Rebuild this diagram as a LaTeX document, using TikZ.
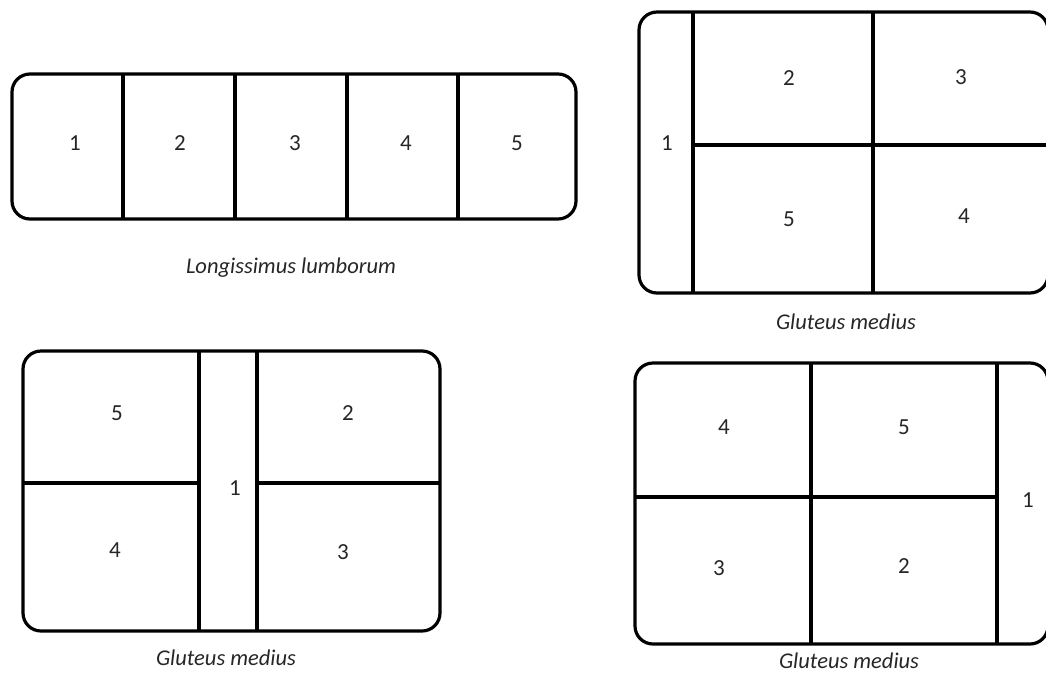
\documentclass[tikz,border=0pt]{standalone}
\usepackage{fontspec}
\setmainfont{Carlito}
\begin{document}
\begin{tikzpicture}[x=1pt,y=-1pt,
  outline/.style={line width=3.2pt, rounded corners=18pt},
  divider/.style={line width=3.2pt},
  num/.style={font=\fontsize{23}{27}\selectfont, text=black!85},
  caption/.style={font=\fontsize{22.5}{26}\selectfont\itshape, text=black!85}]
\useasboundingbox (0,0) rectangle (1046,675);

% --- Longissimus lumborum: five slices in a row ---
\draw[outline] (12,74) rectangle (576,219);
\foreach \x in {123,235,347,458} \draw[divider] (\x,74) -- (\x,219);
\node[num] (l1) at (75,143) {1};
\node[num] (l2) at (180,143) {2};
\node[num] (l3) at (295,143) {3};
\node[num] (l4) at (406,143) {4};
\node[num] (l5) at (517,143) {5};
\node[caption] (lcap) at (291,268) {Longissimus lumborum};

% --- Gluteus medius, top right ---
\draw[outline] (639,12) rectangle (1048,293);
\draw[divider] (693,12) -- (693,293);
\draw[divider] (873,12) -- (873,293);
\draw[divider] (693,145) -- (1048,145);
\node[num] (a1) at (667,143) {1};
\node[num] (a2) at (789,78) {2};
\node[num] (a3) at (961,77) {3};
\node[num] (a5) at (789,219) {5};
\node[num] (a4) at (964,216) {4};
\node[caption] (acap) at (846,322) {Gluteus medius};

% --- Gluteus medius, bottom left ---
\draw[outline] (23,351) rectangle (440,631);
\draw[divider] (199,351) -- (199,631);
\draw[divider] (257,351) -- (257,631);
\draw[divider] (23,483) -- (199,483);
\draw[divider] (257,483) -- (440,483);
\node[num] (b5) at (117,413) {5};
\node[num] (b4) at (115,550) {4};
\node[num] (b1) at (235,488) {1};
\node[num] (b2) at (348,413) {2};
\node[num] (b3) at (343,552) {3};
\node[caption] (bcap) at (226,658) {Gluteus medius};

% --- Gluteus medius, bottom right ---
\draw[outline] (635,363) rectangle (1048,644);
\draw[divider] (811,363) -- (811,644);
\draw[divider] (997,363) -- (997,644);
\draw[divider] (635,497) -- (997,497);
\node[num] (c4) at (724,427) {4};
\node[num] (c5) at (904,427) {5};
\node[num] (c3) at (719,568) {3};
\node[num] (c2) at (904,566) {2};
\node[num] (c1) at (1028,500) {1};
\node[caption] (ccap) at (849,661) {Gluteus medius};
\end{tikzpicture}
\end{document}
